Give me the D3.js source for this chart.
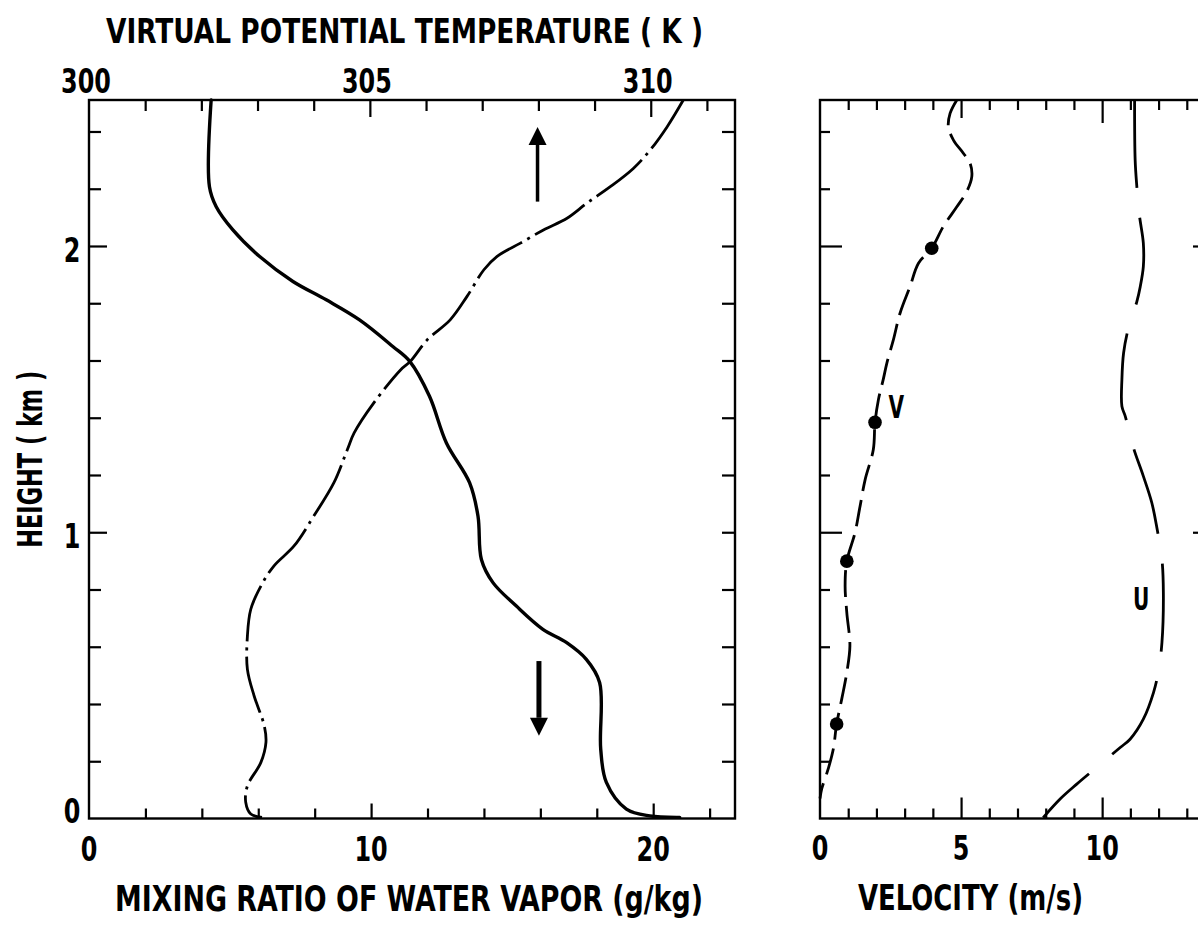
<!DOCTYPE html>
<html>
<head>
<meta charset="utf-8">
<script src="https://cdn.jsdelivr.net/npm/d3@7"></script>
<style>
  html, body { margin: 0; padding: 0; background: #fff; }
  svg { display: block; }
  text { font-family: "DejaVu Sans Condensed", "DejaVu Sans", sans-serif; font-weight: bold; fill: #000; }
</style>
</head>
<body>
<svg id="chart" width="1198" height="927"></svg>
<script>
// Boundary-layer profiles: moisture and virtual potential temperature (left),
// wind components U and V (right), all against height.

// Mixing ratio of water vapour (g/kg), listed from the top of the profile down
const mixHeight = [2.51, 2.207, 2.137, 2.056, 1.963, 1.876, 1.812, 1.742, 1.649, 1.597, 1.475, 1.312,
                   1.173, 1.056, 0.905, 0.824, 0.742, 0.661, 0.615, 0.556, 0.475, 0.242, 0.126, 0.033, 0.009, 0.004];
const mixRatio  = [4.33, 4.27, 4.51, 5.10, 6.05, 7.23, 8.41, 9.59, 10.77, 11.37, 12.07, 12.67,
                   13.49, 13.79, 13.91, 14.32, 15.15, 16.09, 16.92, 17.63, 18.10, 18.14, 18.34, 19.05, 19.88, 20.94];

// Virtual potential temperature (K)
const thetaHeight = [2.51, 2.416, 2.335, 2.271, 2.207, 2.149, 2.097, 2.056, 2.010, 1.963, 1.917, 1.824,
                     1.742, 1.672, 1.597, 1.568, 1.452, 1.347, 1.289, 1.173, 1.056, 0.952, 0.882, 0.812,
                     0.731, 0.638, 0.521, 0.428, 0.324, 0.266, 0.196, 0.114, 0.057, 0.016, 0.004];
const thetaV      = [310.58, 310.29, 309.99, 309.69, 309.28, 308.86, 308.51, 308.09, 307.68, 307.26, 307.03, 306.73,
                     306.43, 306.02, 305.72, 305.55, 305.07, 304.72, 304.60, 304.36, 304.00, 303.65, 303.29, 303.06,
                     302.88, 302.82, 302.82, 302.94, 303.12, 303.15, 303.06, 302.82, 302.79, 302.88, 303.08];

// V wind component (m/s)
const vHeight = [2.51, 2.463, 2.416, 2.370, 2.324, 2.289, 2.242, 2.190, 2.137, 2.068, 1.992, 1.940,
                 1.858, 1.766, 1.672, 1.591, 1.533, 1.463, 1.384, 1.289, 1.184, 1.091, 0.998, 0.899,
                 0.812, 0.719, 0.603, 0.510, 0.417, 0.330, 0.242, 0.173, 0.103, 0.07];
const vSpeed  = [4.85, 4.61, 4.55, 4.73, 5.08, 5.32, 5.38, 5.20, 4.85, 4.37, 3.96, 3.49,
                 3.19, 2.84, 2.60, 2.37, 2.24, 2.07, 1.95, 1.89, 1.60, 1.42, 1.24, 0.95,
                 0.89, 0.95, 1.06, 0.95, 0.77, 0.59, 0.47, 0.29, 0.06, 0.0];

// Observed V levels marked with dots
const vDotHeight = [1.992, 1.384, 0.899, 0.330];
const vDotSpeed  = [3.96, 1.95, 0.95, 0.59];

// U wind component (m/s)
const uHeight = [2.51, 2.300, 2.207, 2.108, 2.010, 1.928, 1.858, 1.806, 1.713, 1.626, 1.533, 1.440,
                 1.405, 1.295, 1.196, 1.103, 1.016, 0.905, 0.789, 0.615, 0.516, 0.440, 0.347, 0.277,
                 0.248, 0.179, 0.120, 0.068, 0.003];
const uSpeed  = [11.15, 11.17, 11.23, 11.32, 11.46, 11.46, 11.35, 11.23, 10.93, 10.76, 10.70, 10.70,
                 10.82, 11.11, 11.46, 11.76, 11.94, 12.12, 12.17, 12.12, 12.00, 11.82, 11.46, 10.99,
                 10.64, 9.81, 9.10, 8.51, 7.91];

// Tick labels
const mixTickLabels    = [0, 10, 20];
const thetaTickLabels  = [300, 305, 310];
const heightTickLabels = [0, 1, 2];
const velTickLabels    = [0, 5, 10];

// Arrow annotations (mixing ratio position, start height, tip height)
const arrowMix   = [15.9, 15.95];
const arrowStart = [2.155, 0.55];
const arrowTip   = [2.416, 0.289];

const svg = d3.select("#chart");
svg.append("rect").attr("width", 1198).attr("height", 927).attr("fill", "#fff");

// Scales
const hScale     = d3.scaleLinear().domain([0, 2.51]).range([818.5, 100]);
const mixScale   = d3.scaleLinear().domain([0, 22.9]).range([89, 735]);
const thetaScale = d3.scaleLinear().domain([300, 311.5]).range([89, 735]);
const velScale   = d3.scaleLinear().domain([0, 14]).range([820, 1215]);

const zip = (a, b) => a.map((d, i) => [d, b[i]]);

// ---- ticks drawn with d3 axes (inward, no domain path) ----
function tickSet(axisFn, scale, values, len, transform) {
  const g = svg.append("g")
    .attr("transform", transform)
    .call(axisFn(scale).tickValues(values).tickSize(-len).tickFormat(""));
  g.select(".domain").remove();
  g.selectAll(".tick line").attr("stroke", "#000").attr("stroke-width", 2.2);
}
const yBot = hScale(0), yTop = hScale(2.51);

// Left panel
tickSet(d3.axisBottom, mixScale, d3.range(2, 23, 2).filter(v => v % 10 !== 0), 10, `translate(0,${yBot})`);
tickSet(d3.axisBottom, mixScale, [10, 20], 15, `translate(0,${yBot})`);
tickSet(d3.axisTop, thetaScale, d3.range(301, 312).filter(v => v % 5 !== 0), 11, `translate(0,${yTop})`);
tickSet(d3.axisTop, thetaScale, [305, 310], 17, `translate(0,${yTop})`);
const hMinor = d3.range(1, 13).map(i => i * 0.2).filter(v => Math.abs(v - 1) > 1e-6 && Math.abs(v - 2) > 1e-6);
tickSet(d3.axisLeft, hScale, hMinor, 12, `translate(${mixScale(0)},0)`);
tickSet(d3.axisLeft, hScale, [1, 2], 18, `translate(${mixScale(0)},0)`);
tickSet(d3.axisRight, hScale, d3.range(1, 13).map(i => i * 0.2), 13, `translate(${mixScale(22.9)},0)`);

// Right panel
const velMinor = d3.range(1, 14).filter(v => v % 5 !== 0);
tickSet(d3.axisBottom, velScale, velMinor, 10, `translate(0,${yBot})`);
tickSet(d3.axisBottom, velScale, [5, 10], 21, `translate(0,${yBot})`);
tickSet(d3.axisTop, velScale, velMinor, 10, `translate(0,${yTop})`);
tickSet(d3.axisTop, velScale, [5], 18, `translate(0,${yTop})`);
tickSet(d3.axisTop, velScale, [10], 23, `translate(0,${yTop})`);
tickSet(d3.axisLeft, hScale, hMinor, 10, `translate(${velScale(0)},0)`);
tickSet(d3.axisLeft, hScale, [1, 2], 22, `translate(${velScale(0)},0)`);
tickSet(d3.axisRight, hScale, hMinor, 10, `translate(${velScale(14)},0)`);
tickSet(d3.axisRight, hScale, [1, 2], 22, `translate(${velScale(14)},0)`);

// ---- frames ----
svg.append("rect")
  .attr("x", mixScale(0)).attr("y", yTop)
  .attr("width", mixScale(22.9) - mixScale(0)).attr("height", yBot - yTop)
  .attr("fill", "none").attr("stroke", "#000").attr("stroke-width", 2.4);
svg.append("rect")
  .attr("x", velScale(0)).attr("y", yTop)
  .attr("width", velScale(14) - velScale(0)).attr("height", yBot - yTop)
  .attr("fill", "none").attr("stroke", "#000").attr("stroke-width", 2.4);

// ---- profiles ----
const curve = d3.curveCatmullRom.alpha(0.5);

const mixLine = d3.line().curve(curve).x(d => mixScale(d[1])).y(d => hScale(d[0]));
svg.append("path").datum(zip(mixHeight, mixRatio)).attr("d", mixLine)
  .attr("fill", "none").attr("stroke", "#000").attr("stroke-width", 3.4)
  .attr("stroke-linejoin", "round").attr("stroke-linecap", "round");

const thetaLine = d3.line().curve(curve).x(d => thetaScale(d[1])).y(d => hScale(d[0]));
svg.append("path").datum(zip(thetaHeight, thetaV)).attr("d", thetaLine)
  .attr("fill", "none").attr("stroke", "#000").attr("stroke-width", 2.8)
  .attr("stroke-dasharray", "58 6 3 6");

const velLine = d3.line().curve(curve).x(d => velScale(d[1])).y(d => hScale(d[0]));
svg.append("path").datum(zip(vHeight, vSpeed)).attr("d", velLine)
  .attr("fill", "none").attr("stroke", "#000").attr("stroke-width", 2.8)
  .attr("stroke-dasharray", "27 9");
svg.append("path").datum(zip(uHeight, uSpeed)).attr("d", velLine)
  .attr("fill", "none").attr("stroke", "#000").attr("stroke-width", 2.8)
  .attr("stroke-dasharray", "88 30");

svg.selectAll("circle.vdot").data(zip(vDotHeight, vDotSpeed)).join("circle")
  .attr("class", "vdot")
  .attr("cx", d => velScale(d[1])).attr("cy", d => hScale(d[0]))
  .attr("r", 6.8).attr("fill", "#000");

// ---- arrows ----
arrowMix.forEach((m, i) => {
  const x = mixScale(m);
  const y0 = hScale(arrowStart[i]);
  const y1 = hScale(arrowTip[i]);
  const dir = Math.sign(y1 - y0);
  const headLen = 18, headHalf = 9;
  svg.append("line")
    .attr("x1", x).attr("x2", x).attr("y1", y0).attr("y2", y1 - dir * headLen)
    .attr("stroke", "#000").attr("stroke-width", i === 0 ? 3.5 : 5);
  svg.append("path")
    .attr("d", `M${x},${y1} L${x - headHalf},${y1 - dir * headLen} L${x + headHalf},${y1 - dir * headLen} Z`)
    .attr("fill", "#000");
});

// ---- text ----
function label(str, x, y, size, opts = {}) {
  const sx = opts.sx ?? 0.78;
  const rot = opts.rotate ?? 0;
  const t = svg.append("text")
    .attr("transform", `translate(${x},${y}) rotate(${rot}) scale(${sx},1)`)
    .attr("text-anchor", opts.anchor ?? "middle")
    .style("font-size", size + "px")
    .text(str);
  if (opts.len) t.attr("textLength", opts.len / sx).attr("lengthAdjust", "spacingAndGlyphs");
  return t;
}

thetaTickLabels.forEach(v => label(String(v), thetaScale(v) - 3, 93, 34));
mixTickLabels.forEach(v => label(String(v), mixScale(v), 861, 34));
velTickLabels.forEach(v => label(String(v), velScale(v), 860, 34));
heightTickLabels.forEach(v => label(String(v), 72, Math.min(hScale(v) + 16, 823), 34));

label("VIRTUAL POTENTIAL TEMPERATURE ( K )", 106, 43, 34, { anchor: "start", sx: 1, len: 597 });
label("MIXING RATIO OF WATER VAPOR (g/kg)", 115, 911, 35, { anchor: "start", sx: 1, len: 588 });
label("VELOCITY (m/s)", 858, 910, 35, { anchor: "start", sx: 1, len: 225 });
label("HEIGHT ( km )", 42, (yTop + yBot) / 2, 34, { rotate: -90, sx: 1, len: 177 });

label("V", velScale(2.7), hScale(1.44) + 12, 32, { sx: 0.7 });
label("U", velScale(11.38), hScale(0.77) + 12, 32, { sx: 0.7 });
</script>
</body>
</html>
